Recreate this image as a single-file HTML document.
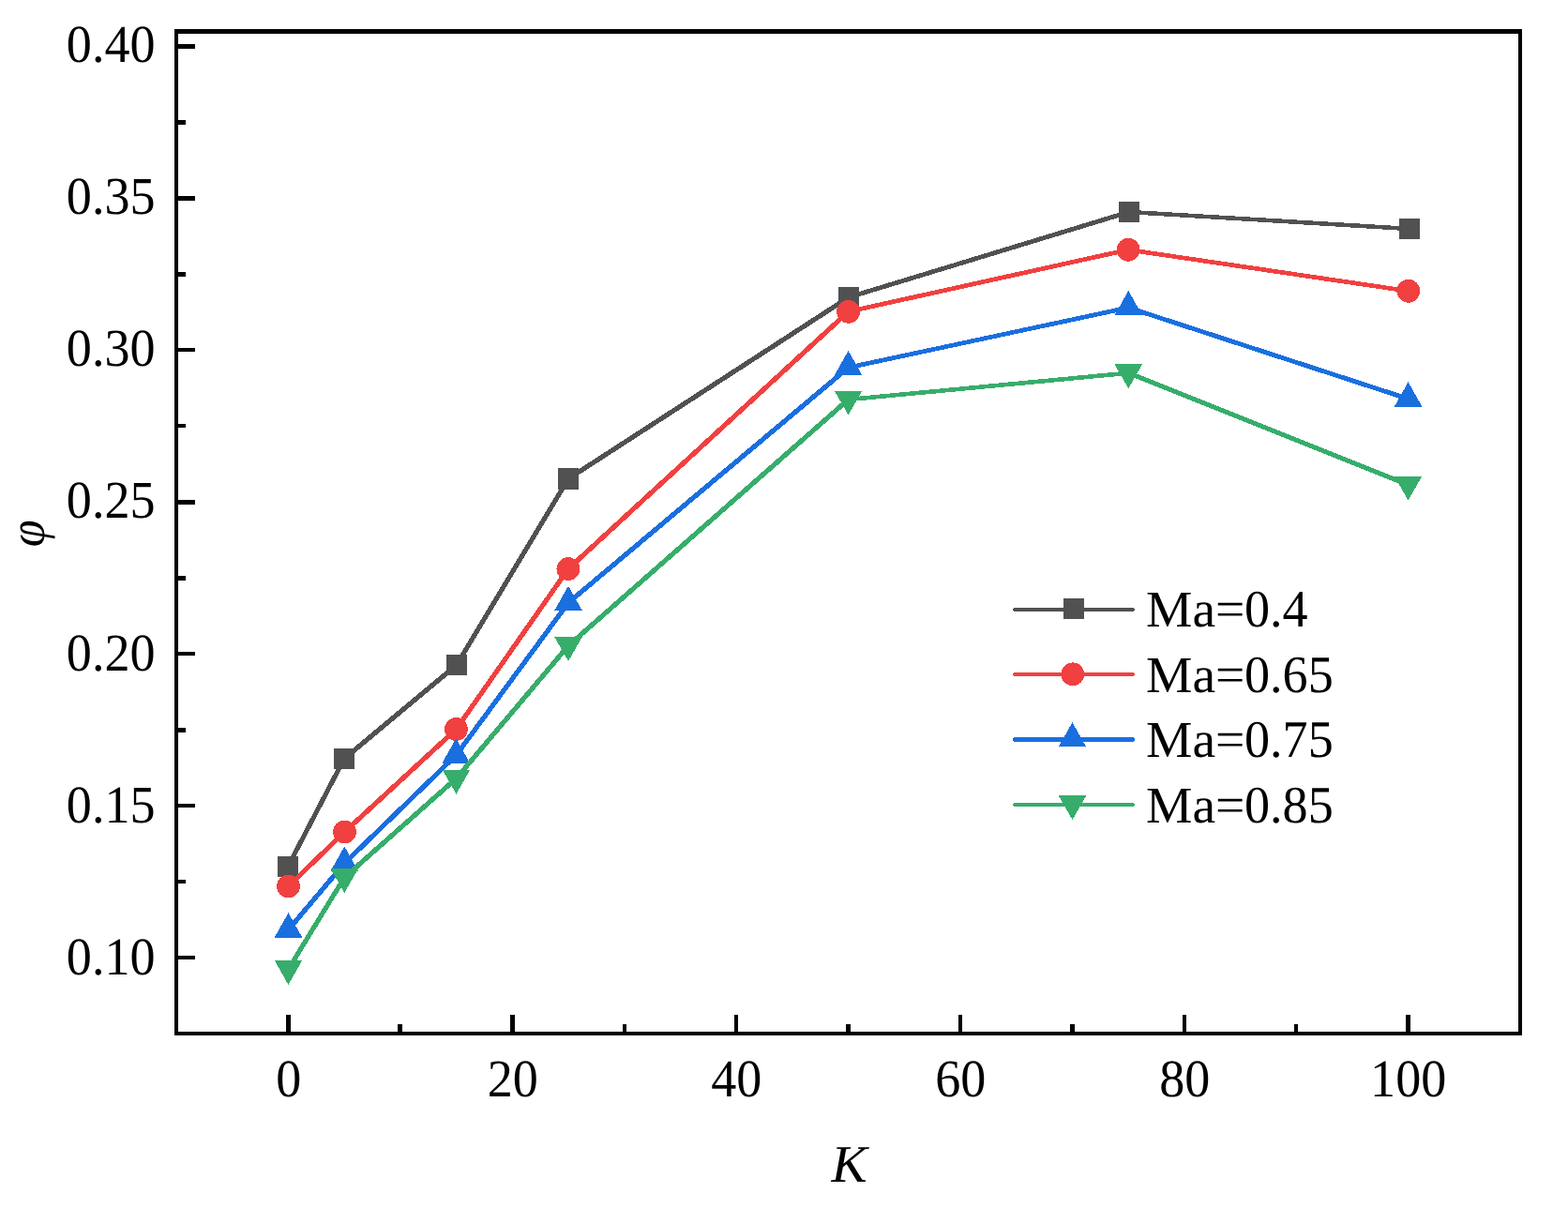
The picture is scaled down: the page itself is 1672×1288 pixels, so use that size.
<!DOCTYPE html>
<html lang="en"><head><meta charset="utf-8"><title>φ versus K for different Mach numbers</title>
<style>
html,body{margin:0;padding:0;background:#fff;}
body{width:1672px;height:1288px;overflow:hidden;position:relative;}
svg{display:block;}
text{font-family:"Liberation Serif",serif;font-size:55.56px;fill:#000;text-rendering:geometricPrecision;}
.it{font-style:italic;}
.lg{position:absolute;white-space:nowrap;font-family:"Liberation Serif",serif;font-size:55.56px;line-height:55.56px;height:55.56px;color:#000;text-rendering:geometricPrecision;}
.lg span{display:inline-block;transform-origin:0 83.75%;}
.la{transform:scale(1,0.99);}
.di{transform:scale(0.975,1.012);letter-spacing:0px;}
</style></head><body>
<svg width="1672" height="1288" viewBox="0 0 1672 1288">
<rect x="0" y="0" width="1672" height="1288" fill="#ffffff"/>
<g shape-rendering="crispEdges">
<g stroke="#515151" stroke-linecap="round" fill="none">
<line x1="307.00" y1="924.00" x2="367.00" y2="809.00" stroke-width="5.11"/>
<line x1="367.00" y1="809.00" x2="487.00" y2="709.00" stroke-width="5.24"/>
<line x1="487.00" y1="709.00" x2="606.00" y2="510.50" stroke-width="5.16"/>
<line x1="606.00" y1="510.50" x2="905.00" y2="317.00" stroke-width="5.18"/>
<line x1="905.00" y1="317.00" x2="1204.00" y2="226.00" stroke-width="4.90"/>
<line x1="1204.00" y1="226.00" x2="1503.00" y2="244.00" stroke-width="4.55"/>
</g>
<rect x="296.00" y="913.00" width="22" height="22" fill="#515151"/>
<rect x="356.00" y="798.00" width="22" height="22" fill="#515151"/>
<rect x="476.00" y="698.00" width="22" height="22" fill="#515151"/>
<rect x="595" y="499" width="22" height="23" fill="#515151"/>
<rect x="894.00" y="306.00" width="22" height="22" fill="#515151"/>
<rect x="1193.00" y="215.00" width="22" height="22" fill="#515151"/>
<rect x="1492.00" y="233.00" width="22" height="22" fill="#515151"/>
</g>
<g shape-rendering="crispEdges">
<g stroke="#F14040" stroke-linecap="round" fill="none">
<line x1="307.50" y1="945.00" x2="367.50" y2="887.00" stroke-width="5.25"/>
<line x1="367.50" y1="887.00" x2="486.50" y2="777.50" stroke-width="5.25"/>
<line x1="486.50" y1="777.50" x2="605.90" y2="606.60" stroke-width="5.20"/>
<line x1="605.90" y1="606.60" x2="904.60" y2="332.30" stroke-width="5.25"/>
<line x1="904.60" y1="332.30" x2="1203.10" y2="266.30" stroke-width="4.79"/>
<line x1="1203.10" y1="266.30" x2="1501.80" y2="310.30" stroke-width="4.68"/>
</g>
<circle cx="307.50" cy="945.00" r="12.4" fill="#F14040"/>
<circle cx="367.50" cy="887.00" r="12.4" fill="#F14040"/>
<circle cx="486.50" cy="777.50" r="12.4" fill="#F14040"/>
<circle cx="605.90" cy="606.60" r="12.4" fill="#F14040"/>
<circle cx="904.60" cy="332.30" r="12.4" fill="#F14040"/>
<circle cx="1203.10" cy="266.30" r="12.4" fill="#F14040"/>
<circle cx="1501.80" cy="310.30" r="12.4" fill="#F14040"/>
</g>
<g shape-rendering="crispEdges">
<g stroke="#1A6FDF" stroke-linecap="round" fill="none">
<line x1="307.50" y1="991.30" x2="367.30" y2="920.50" stroke-width="5.24"/>
<line x1="367.30" y1="920.50" x2="486.30" y2="805.30" stroke-width="5.25"/>
<line x1="486.30" y1="805.30" x2="606.00" y2="642.70" stroke-width="5.21"/>
<line x1="606.00" y1="642.70" x2="904.60" y2="391.90" stroke-width="5.24"/>
<line x1="904.60" y1="391.90" x2="1203.30" y2="328.00" stroke-width="4.78"/>
<line x1="1203.30" y1="328.00" x2="1501.60" y2="425.30" stroke-width="4.92"/>
</g>
<polygon points="307.50,973.30 322.25,999.50 292.75,999.50" fill="#1A6FDF"/>
<polygon points="367.30,902.50 382.05,928.70 352.55,928.70" fill="#1A6FDF"/>
<polygon points="486.30,787.30 501.05,813.50 471.55,813.50" fill="#1A6FDF"/>
<polygon points="606.00,624.70 620.75,650.90 591.25,650.90" fill="#1A6FDF"/>
<polygon points="904.60,373.90 919.35,400.10 889.85,400.10" fill="#1A6FDF"/>
<polygon points="1203.30,310.00 1218.05,336.20 1188.55,336.20" fill="#1A6FDF"/>
<polygon points="1501.60,407.30 1516.35,433.50 1486.85,433.50" fill="#1A6FDF"/>
</g>
<g shape-rendering="crispEdges">
<g stroke="#37AD6B" stroke-linecap="round" fill="none">
<line x1="307.50" y1="1033.40" x2="367.30" y2="935.50" stroke-width="5.16"/>
<line x1="367.30" y1="935.50" x2="486.50" y2="830.00" stroke-width="5.24"/>
<line x1="486.50" y1="830.00" x2="606.00" y2="688.50" stroke-width="5.24"/>
<line x1="606.00" y1="688.50" x2="904.60" y2="426.00" stroke-width="5.24"/>
<line x1="904.60" y1="426.00" x2="1203.30" y2="397.70" stroke-width="4.60"/>
<line x1="1203.30" y1="397.70" x2="1501.60" y2="517.00" stroke-width="5.00"/>
</g>
<polygon points="307.50,1050.00 322.25,1024.10 292.75,1024.10" fill="#37AD6B"/>
<polygon points="367.30,952.10 382.05,926.20 352.55,926.20" fill="#37AD6B"/>
<polygon points="486.50,846.60 501.25,820.70 471.75,820.70" fill="#37AD6B"/>
<polygon points="606.00,705.10 620.75,679.20 591.25,679.20" fill="#37AD6B"/>
<polygon points="904.60,442.60 919.35,416.70 889.85,416.70" fill="#37AD6B"/>
<polygon points="1203.30,414.30 1218.05,388.40 1188.55,388.40" fill="#37AD6B"/>
<polygon points="1501.60,533.60 1516.35,507.70 1486.85,507.70" fill="#37AD6B"/>
</g>
<g fill="#000" shape-rendering="crispEdges">
<rect x="186" y="31" width="1437" height="5"/>
<rect x="186" y="1100" width="1437" height="4"/>
<rect x="186" y="31" width="4" height="1073"/>
<rect x="1619" y="31" width="4" height="1073"/>
<rect x="190" y="47" width="18" height="5"/>
<rect x="190" y="209" width="18" height="5"/>
<rect x="190" y="371" width="18" height="4"/>
<rect x="190" y="533" width="18" height="5"/>
<rect x="190" y="695" width="18" height="4"/>
<rect x="190" y="857" width="18" height="4"/>
<rect x="190" y="1019" width="18" height="4"/>
<rect x="190" y="128" width="8" height="5"/>
<rect x="190" y="290" width="8" height="5"/>
<rect x="190" y="452" width="8" height="4"/>
<rect x="190" y="614" width="8" height="5"/>
<rect x="190" y="776" width="8" height="5"/>
<rect x="190" y="938" width="8" height="4"/>
<rect x="305" y="1082" width="5" height="18"/>
<rect x="544" y="1082" width="5" height="18"/>
<rect x="783" y="1082" width="4" height="18"/>
<rect x="1022" y="1082" width="4" height="18"/>
<rect x="1261" y="1082" width="4" height="18"/>
<rect x="1499" y="1082" width="5" height="18"/>
<rect x="424" y="1092" width="5" height="8"/>
<rect x="664" y="1092" width="4" height="8"/>
<rect x="902" y="1092" width="5" height="8"/>
<rect x="1141" y="1092" width="5" height="8"/>
<rect x="1380" y="1092" width="4" height="8"/>
</g>
<g>
<text transform="translate(165.60,65.60) scale(0.975,1.02)" text-anchor="end" letter-spacing="0.0">0.40</text>
<text transform="translate(165.60,228.43) scale(0.975,1.02)" text-anchor="end" letter-spacing="0.0">0.35</text>
<text transform="translate(165.60,390.46) scale(0.975,1.02)" text-anchor="end" letter-spacing="0.0">0.30</text>
<text transform="translate(165.60,552.49) scale(0.975,1.02)" text-anchor="end" letter-spacing="0.0">0.25</text>
<text transform="translate(165.60,714.52) scale(0.975,1.02)" text-anchor="end" letter-spacing="0.0">0.20</text>
<text transform="translate(165.60,876.55) scale(0.975,1.02)" text-anchor="end" letter-spacing="0.0">0.15</text>
<text transform="translate(165.60,1038.58) scale(0.975,1.02)" text-anchor="end" letter-spacing="0.0">0.10</text>
</g>
<g>
<text transform="translate(307.70,1168.70) scale(0.975,1.02)" text-anchor="middle" letter-spacing="0.0">0</text>
<text transform="translate(546.70,1168.70) scale(0.975,1.02)" text-anchor="middle" letter-spacing="0.0">20</text>
<text transform="translate(785.20,1168.70) scale(0.975,1.02)" text-anchor="middle" letter-spacing="0.0">40</text>
<text transform="translate(1024.20,1168.70) scale(0.975,1.02)" text-anchor="middle" letter-spacing="0.0">60</text>
<text transform="translate(1263.20,1168.70) scale(0.975,1.02)" text-anchor="middle" letter-spacing="0.0">80</text>
<text transform="translate(1501.70,1168.70) scale(0.975,1.02)" text-anchor="middle" letter-spacing="0.0">100</text>
</g>
<text class="it" text-anchor="middle" transform="translate(905.5,1260) scale(1.027,1.013)">K</text>
<text class="it" text-anchor="middle" transform="translate(47.45,568.85) rotate(-90) scale(0.945,0.975)">φ</text>
<g shape-rendering="crispEdges">
<rect x="1081" y="648" width="128" height="4" fill="#515151"/>
<rect x="1080" y="649" width="130" height="2" fill="#515151"/>
<rect x="1134.00" y="638.40" width="22" height="22" fill="#515151"/>
</g>
<g shape-rendering="crispEdges">
<rect x="1081" y="717" width="128" height="4" fill="#F14040"/>
<rect x="1080" y="718" width="130" height="2" fill="#F14040"/>
<circle cx="1143.80" cy="718.80" r="12.4" fill="#F14040"/>
</g>
<g shape-rendering="crispEdges">
<rect x="1081" y="786" width="128" height="5" fill="#1A6FDF"/>
<rect x="1080" y="787" width="130" height="3" fill="#1A6FDF"/>
<polygon points="1143.50,770.20 1158.25,796.40 1128.75,796.40" fill="#1A6FDF"/>
</g>
<g shape-rendering="crispEdges">
<rect x="1081" y="856" width="128" height="4" fill="#37AD6B"/>
<rect x="1080" y="857" width="130" height="2" fill="#37AD6B"/>
<polygon points="1143.50,874.20 1158.25,848.30 1128.75,848.30" fill="#37AD6B"/>
</g>
</svg>
<div class="lg" style="left:1222px;top:623.37px"><span class="la">Ma=</span><span class="di">0.4</span></div>
<div class="lg" style="left:1222px;top:692.77px"><span class="la">Ma=</span><span class="di">0.65</span></div>
<div class="lg" style="left:1222px;top:762.17px"><span class="la">Ma=</span><span class="di">0.75</span></div>
<div class="lg" style="left:1222px;top:831.57px"><span class="la">Ma=</span><span class="di">0.85</span></div>
</body></html>
